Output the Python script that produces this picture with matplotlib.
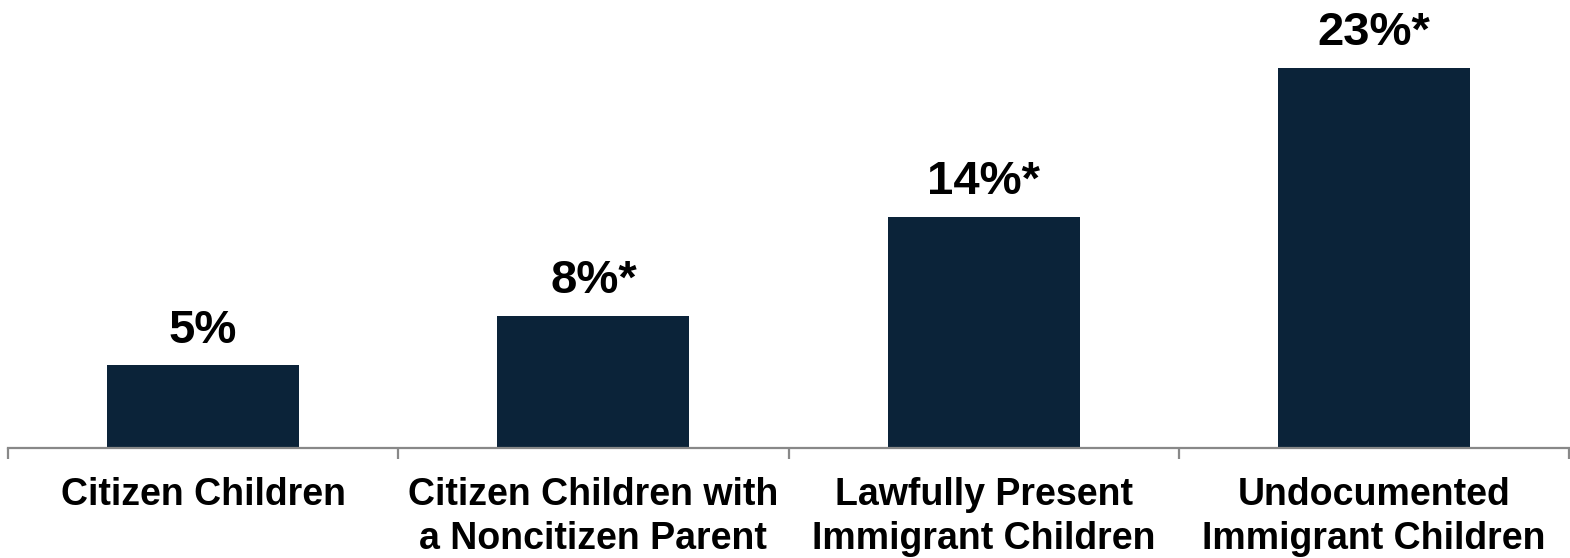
import matplotlib
matplotlib.use("Agg")
import matplotlib.pyplot as plt

categories = [
    "Citizen Children",
    "Citizen Children with\na Noncitizen Parent",
    "Lawfully Present\nImmigrant Children",
    "Undocumented\nImmigrant Children",
]
values = [5, 8, 14, 23]
value_labels = ["5%", "8%*", "14%*", "23%*"]

plt.rcParams["font.family"] = ["Liberation Sans", "DejaVu Sans"]

W, H = 1570, 558
fig = plt.figure(figsize=(W / 100, H / 100), dpi=100)
ax = fig.add_axes([8 / W, (H - 448) / H, (1569 - 8) / W, 448 / H])

x = list(range(len(categories)))
bars = ax.bar(x, values, width=0.492, color="#0B2339")

ax.set_xlim(-0.5, len(categories) - 0.5)
ax.set_ylim(0, 27.1)

for rect, lab in zip(bars, value_labels):
    ax.annotate(lab, (rect.get_x() + rect.get_width() / 2, rect.get_height()),
                xytext=(0, 9), textcoords="offset points",
                ha="center", va="bottom", fontsize=34, fontweight="bold",
                color="black")

for side in ("left", "top", "right"):
    ax.spines[side].set_visible(False)
ax.spines["bottom"].set_color("#888888")
ax.spines["bottom"].set_linewidth(1.6)

ax.set_yticks([])
ax.set_xticks(x)
ax.set_xticklabels(categories, fontsize=27, fontweight="bold", linespacing=1.27)
ax.tick_params(axis="x", which="major", length=0, pad=21)
ax.set_xticks([i - 0.5 for i in range(len(categories) + 1)], minor=True)
ax.tick_params(axis="x", which="minor", length=8, width=1.6, color="#888888",
               direction="out")

fig.savefig("out.png", dpi=100)
